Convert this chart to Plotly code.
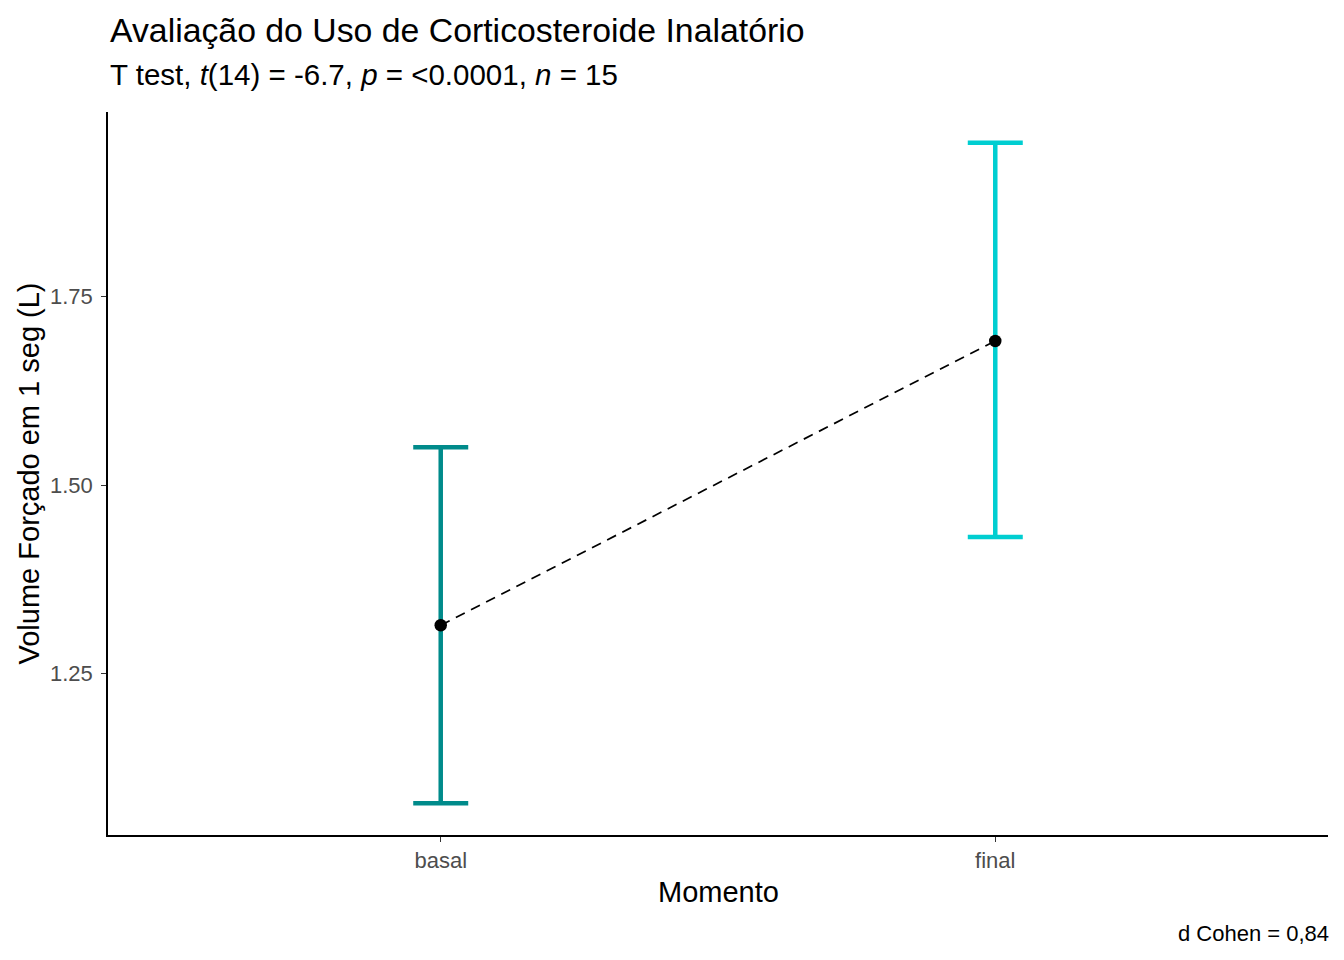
import plotly.graph_objects as go

# Data
categories = ["basal", "final"]
means = [1.314, 1.691]
lower = [1.078, 1.431]
upper = [1.550, 1.954]
colors = ["#008B8B", "#00CED1"]
y_ticks = [1.25, 1.50, 1.75]

title_text = "Avaliação do Uso de Corticosteroide Inalatório"
subtitle_text = "T test, <i>t</i>(14) = -6.7, <i>p</i> = <0.0001, <i>n</i> = 15"
caption_text = "d Cohen = 0,84"
x_title = "Momento"
y_title = "Volume Forçado em 1 seg (L)"

FONT = "Liberation Sans, Arial, sans-serif"

fig = go.Figure()

xpos = list(range(1, len(categories) + 1))

for i, cat in enumerate(categories):
    fig.add_trace(go.Scatter(
        x=[xpos[i]], y=[means[i]], mode="markers",
        marker=dict(size=1, color="rgba(0,0,0,0)"),
        error_y=dict(type="data", symmetric=False,
                     array=[upper[i] - means[i]],
                     arrayminus=[means[i] - lower[i]],
                     color=colors[i], thickness=4.5, width=27.5),
        showlegend=False, hoverinfo="skip",
    ))

fig.add_trace(go.Scatter(
    x=xpos, y=means, mode="lines",
    line=dict(color="black", width=1.7, dash="10px,7px"),
    showlegend=False,
))
fig.add_trace(go.Scatter(
    x=xpos, y=means, mode="markers",
    marker=dict(color="black", size=12.5),
    showlegend=False,
))

L, R, T, B = 108, 16, 112, 125
W, H = 1344, 960
ph = H - T - B

fig.update_layout(
    width=W, height=H,
    margin=dict(l=L, r=R, t=T, b=B),
    plot_bgcolor="white", paper_bgcolor="white",
    font=dict(family=FONT, color="black"),
    xaxis=dict(
        range=[0.4, 2.6], tickvals=xpos, ticktext=categories,
        showline=True, linecolor="black", linewidth=1.5,
        ticks="outside", ticklen=5, tickcolor="#333333", tickwidth=1.2,
        tickfont=dict(size=22, color="#4D4D4D", family=FONT),
        showgrid=False, zeroline=False,
    ),
    yaxis=dict(
        range=[1.0358, 1.9947], tickvals=y_ticks,
        ticktext=[f"{v:.2f}" for v in y_ticks],
        showline=True, linecolor="black", linewidth=1.5,
        ticks="outside", ticklen=5, tickcolor="#333333", tickwidth=1.2,
        tickfont=dict(size=22, color="#4D4D4D", family=FONT),
        ticklabelstandoff=4,
        showgrid=False, zeroline=False,
    ),
    annotations=[
        dict(text=title_text, xref="paper", yref="paper", x=0, y=1 + (T - 30) / ph,
             xanchor="left", yanchor="middle", showarrow=False,
             font=dict(size=33.8, color="black", family=FONT)),
        dict(text=subtitle_text, xref="paper", yref="paper", x=0, y=1 + (T - 75) / ph,
             xanchor="left", yanchor="middle", showarrow=False,
             font=dict(size=29.5, color="black", family=FONT)),
        dict(text=caption_text, xref="paper", yref="paper", x=1, y=-(933 - (H - B)) / ph,
             xanchor="right", yanchor="middle", showarrow=False, xshift=3,
             font=dict(size=22, color="black", family=FONT)),
        dict(text=x_title, xref="paper", yref="paper", x=0.5, y=-(892 - (H - B)) / ph,
             xanchor="center", yanchor="middle", showarrow=False,
             font=dict(size=29, color="black", family=FONT)),
        dict(text=y_title, xref="paper", yref="paper", x=-(L - 28) / (W - L - R), y=0.5,
             xanchor="center", yanchor="middle", showarrow=False, textangle=-90,
             font=dict(size=29, color="black", family=FONT)),
    ],
)

fig.write_html("out.html")
